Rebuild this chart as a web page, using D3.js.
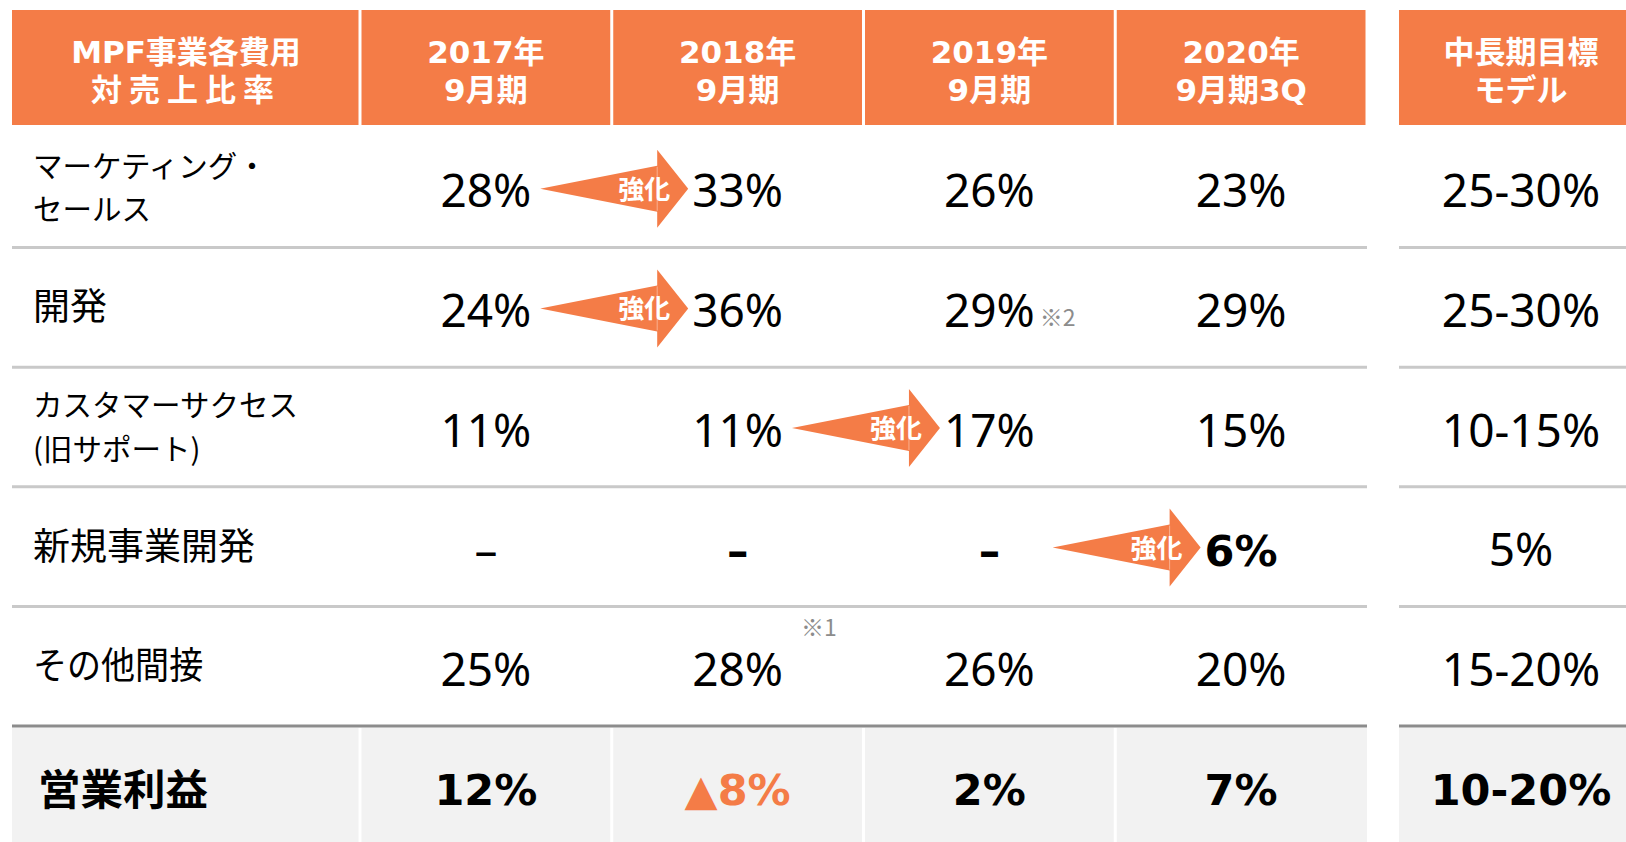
<!DOCTYPE html>
<html lang="ja">
<head>
<meta charset="utf-8">
<script src="https://cdn.jsdelivr.net/npm/d3@7"></script>
<style>
  html, body { margin: 0; padding: 0; background: #fff; }
  svg { display: block; }
</style>
</head>
<body>
<div id="chart"></div>
<script>
// 表のデータ
const headFirst = ["MPF事業各費用", "対売上比率"];
const periods = [["2017年", "9月期"], ["2018年", "9月期"], ["2019年", "9月期"], ["2020年", "9月期3Q"]];
const headTarget = ["中長期目標", "モデル"];

const rowLabels = [
    ["マーケティング・", "セールス"],
    ["開発"],
    ["カスタマーサクセス", "(旧サポート)"],
    ["新規事業開発"],
    ["その他間接"]
];

// 各費用 対売上比率 (%)
const marketing = [28, 33, 26, 23];
const development = [24, 36, 29, 29];
const success = [11, 11, 17, 15];
const newBusiness = [null, null, null, 6];
const indirect = [25, 28, 26, 20];
const rows = [marketing, development, success, newBusiness, indirect];

// 中長期目標
const targets = ["25-30%", "25-30%", "10-15%", "5%", "15-20%"];

// 営業利益
const profitLabel = "営業利益";
const profit = [12, -8, 2, 7];
const profitTarget = "10-20%";

// 強化の矢印 (行, 当期の列)
const arrows = [
    { row: 0, to: 1 },
    { row: 1, to: 1 },
    { row: 2, to: 2 },
    { row: 3, to: 3 }
];

// 太字で強調するセル (新規事業開発)
const boldCells = [[3, 1], [3, 2], [3, 3]];

// 注記
const notes = [
    { row: 4, col: 1, text: "※1", kind: "above" },
    { row: 1, col: 2, text: "※2", kind: "after" }
];

const W = 1626, H = 842;
const orange = "#f47c47";
const jp = "'Noto Sans CJK JP', sans-serif";
const head = "'DejaVu Sans', 'Noto Sans CJK JP', sans-serif";
const num = "'Noto Sans', 'Noto Sans CJK JP', sans-serif";

function draw() {
    const svg = d3.select("#chart").append("svg")
        .attr("width", W)
        .attr("height", H);

    // 列と行のスケール
    const x = d3.scaleBand().domain(d3.range(periods.length)).range([360, 1367]);
    const y = d3.scaleBand().domain(d3.range(rows.length)).range([128, 726]);
    const labelX0 = 12, targetX0 = 1399, targetW = 244;
    const headTop = 10, headBottom = 125, footTop = 727.5;

    // ヘッダー
    const headCells = [{ x0: labelX0, x1: x(0), lines: headFirst }]
        .concat(periods.map((p, i) => ({ x0: x(i), x1: x(i) + x.bandwidth(), lines: p })))
        .concat([{ x0: targetX0, x1: targetX0 + targetW, lines: headTarget }]);

    const hg = svg.append("g");
    hg.selectAll("rect")
        .data(headCells)
        .enter()
        .append("rect")
        .attr("x", (d, i) => i === 0 || i === headCells.length - 1 ? d.x0 : d.x0 + 1.5)
        .attr("y", headTop)
        .attr("width", (d, i) => (d.x1 - d.x0) - (i === 0 ? 1.5 : i === headCells.length - 1 ? 0 : 3))
        .attr("height", headBottom - headTop)
        .attr("fill", orange);

    headCells.forEach((d, i) => {
        const ht = hg.append("text")
            .attr("text-anchor", "middle")
            .attr("font-family", head)
            .attr("font-weight", "bold")
            .attr("font-size", 31)
            .attr("fill", "#fff");
        d.lines.forEach((t, j) => {
            ht.append("tspan")
                .attr("x", (d.x0 + d.x1) / 2)
                .attr("y", headTop + 53 + j * 37.5)
                .attr("letter-spacing", i === 0 && j === 1 ? 7 : 0)
                .text(t);
        });
    });

    // 営業利益の背景
    const fg = svg.append("g");
    fg.append("rect")
        .attr("x", labelX0).attr("y", footTop)
        .attr("width", x.range()[1] - labelX0).attr("height", H - footTop)
        .attr("fill", "#f2f2f2");
    fg.append("rect")
        .attr("x", targetX0).attr("y", footTop)
        .attr("width", targetW).attr("height", H - footTop)
        .attr("fill", "#f2f2f2");
    fg.selectAll("line.div")
        .data(d3.range(periods.length))
        .enter()
        .append("line")
        .attr("class", "div")
        .attr("x1", d => x(d)).attr("x2", d => x(d))
        .attr("y1", footTop).attr("y2", H)
        .attr("stroke", "#fff")
        .attr("stroke-width", 3);

    // 区切り線
    const lg = svg.append("g");
    const segs = [[labelX0, x.range()[1]], [targetX0, W]];
    rows.forEach((r, i) => {
        segs.forEach(s => {
            lg.append("line")
                .attr("x1", s[0]).attr("x2", s[1])
                .attr("y1", y(i) + y.bandwidth()).attr("y2", y(i) + y.bandwidth())
                .attr("stroke", i === rows.length - 1 ? "#8c8c8c" : "#c9c9c9")
                .attr("stroke-width", 3);
        });
    });

    // 行ラベル (1行のものは大きめ、カナは少し詰める)
    const rg = svg.append("g");
    rowLabels.forEach((lines, i) => {
        const cy = y(i) + y.bandwidth() / 2;
        const single = lines.length === 1;
        const size = single ? 37 : 29.5;
        const lbl = rg.append("text")
            .attr("font-family", jp)
            .attr("font-size", size)
            .attr("fill", "#000");
        lines.forEach((t, j) => {
            const off = single ? 13 : (j === 0 ? -11 : 32.5);
            const ts = lbl.append("tspan")
                .attr("x", 33)
                .attr("y", cy + off)
                .text(t);
            const kana = (t.match(/[\u3040-\u30ff]/g) || []).length;
            if (single && kana > 0) {
                const len = ts.node().getComputedTextLength();
                ts.attr("textLength", len - kana * 0.2 * size)
                    .attr("lengthAdjust", "spacingAndGlyphs");
            }
        });
    });

    // 値
    const vg = svg.append("g");
    const cellText = {};
    rows.forEach((r, i) => {
        const cy = y(i) + y.bandwidth() / 2;
        r.forEach((v, j) => {
            const bold = boldCells.some(c => c[0] === i && c[1] === j);
            const t = vg.append("text")
                .attr("x", x(j) + x.bandwidth() / 2)
                .attr("y", cy + 19.5)
                .attr("text-anchor", "middle")
                .attr("font-family", bold ? head : num)
                .attr("font-weight", bold ? "bold" : "normal")
                .attr("font-size", bold ? 43 : 46)
                .attr("fill", "#000")
                .text(v === null ? "–" : v + "%");
            cellText[i + "-" + j] = t;
        });
        vg.append("text")
            .attr("x", targetX0 + targetW / 2)
            .attr("y", cy + 19.5)
            .attr("text-anchor", "middle")
            .attr("font-family", num)
            .attr("font-size", 46)
            .attr("fill", "#000")
            .text(targets[i]);
    });

    // 営業利益の行
    const pcy = (footTop + H) / 2;
    vg.append("text")
        .attr("x", 38)
        .attr("y", pcy + 20)
        .attr("font-family", jp)
        .attr("font-weight", "bold")
        .attr("font-size", 42.5)
        .attr("fill", "#000")
        .text(profitLabel);
    vg.selectAll("text.profit")
        .data(profit)
        .enter()
        .append("text")
        .attr("class", "profit")
        .attr("x", (d, i) => x(i) + x.bandwidth() / 2)
        .attr("y", pcy + 20)
        .attr("text-anchor", "middle")
        .attr("font-family", head)
        .attr("font-weight", "bold")
        .attr("font-size", 43)
        .attr("fill", d => d < 0 ? orange : "#000")
        .text(d => d < 0 ? "▲" + Math.abs(d) + "%" : d + "%");
    vg.append("text")
        .attr("x", targetX0 + targetW / 2)
        .attr("y", pcy + 20)
        .attr("text-anchor", "middle")
        .attr("font-family", head)
        .attr("font-weight", "bold")
        .attr("font-size", 43)
        .attr("fill", "#000")
        .text(profitTarget);

    // 注記
    notes.forEach(n => {
        const b = cellText[n.row + "-" + n.col].node().getBBox();
        const cy = y(n.row) + y.bandwidth() / 2;
        vg.append("text")
            .attr("x", n.kind === "after" ? b.x + b.width + 5 : b.x + b.width + 18)
            .attr("y", n.kind === "after" ? cy + 19 : y(n.row) + 30)
            .attr("font-family", jp)
            .attr("font-size", 23)
            .attr("fill", "#8c8c8c")
            .text(n.text);
    });

    // 強化の矢印
    const ag = svg.append("g");
    arrows.forEach(a => {
        const b = cellText[a.row + "-" + a.to].node().getBBox();
        const tip = b.x - 4;
        const cy = y(a.row) + y.bandwidth() / 2 + 1;
        const pts = [
            [tip - 148, cy], [tip - 31, cy - 23], [tip - 31, cy - 39],
            [tip, cy], [tip - 31, cy + 39], [tip - 31, cy + 23]
        ];
        ag.append("polygon")
            .attr("points", pts.map(p => p.join(",")).join(" "))
            .attr("fill", orange);
        ag.append("line")
            .attr("x1", tip - 31).attr("x2", tip - 31)
            .attr("y1", cy - 22).attr("y2", cy + 22)
            .attr("stroke", "#f9b08f")
            .attr("stroke-width", 1);
        ag.append("text")
            .attr("x", tip - 44)
            .attr("y", cy + 10)
            .attr("text-anchor", "middle")
            .attr("font-family", jp)
            .attr("font-weight", "bold")
            .attr("font-size", 26)
            .attr("fill", "#fff")
            .text("強化");
    });
}

document.fonts.ready.then(draw);
</script>
</body>
</html>
